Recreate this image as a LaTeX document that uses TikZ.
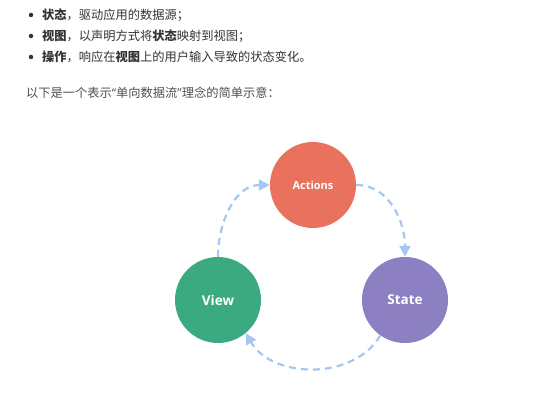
\documentclass[tikz,border=0pt]{standalone}
\usepackage{fontspec}
\setmainfont{Open Sans}
\newfontfamily\cjk{Noto Sans CJK SC}
\usetikzlibrary{arrows.meta}

\definecolor{actionsred}{HTML}{E9725F}
\definecolor{viewgreen}{HTML}{3BAA80}
\definecolor{statepurple}{HTML}{8C80C3}
\definecolor{flowblue}{HTML}{A6C6F4}
\definecolor{txtdark}{HTML}{333333}
\definecolor{txtgray}{HTML}{505050}

\tikzset{
    bubble/.style={circle, minimum size=86pt, inner sep=0pt, text=white, font=\bfseries},
    flow/.style={draw=flowblue, line width=2.2pt, dash pattern=on 7pt off 5pt,
        -{Triangle[length=11pt,width=11pt]}},
    line/.style={anchor=west, inner sep=0pt, text=txtdark, font=\cjk\fontsize{12.25}{14}\selectfont},
    dot/.style={circle, fill=txtdark, inner sep=0pt, minimum size=4.5pt},
}

\begin{document}
\begin{tikzpicture}[x=1pt,y=-1pt]
        \useasboundingbox[fill=white] (0,0) rectangle (535,403);

        % list
        \node[dot] (b1) at (31,15) {};
        \node[dot] (b2) at (31,36) {};
        \node[dot] (b3) at (31,57) {};
        \node[line] (l1) at (42,15) {\textbf{状态}，驱动应用的数据源；};
        \node[line] (l2) at (42,36) {\textbf{视图}，以声明方式将\textbf{状态}映射到视图；};
        \node[line] (l3) at (42,57) {\textbf{操作}，响应在\textbf{视图}上的用户输入导致的状态变化。};
        \node[line, text=txtgray] (intro) at (26,93) {以下是一个表示{\rmfamily“}单向数据流{\rmfamily”}理念的简单示意：};

        % cycle
        \node[bubble, fill=actionsred, font=\bfseries\fontsize{11}{12}\selectfont] (actions) at (313,185) {Actions};
        \node[bubble, fill=statepurple, font=\bfseries\fontsize{13.5}{15}\selectfont] (state) at (405,300) {State};
        \node[bubble, fill=viewgreen, font=\bfseries\fontsize{13.5}{15}\selectfont] (view) at (218,300) {View};

        \draw[flow] (view.north) to[out=90,in=180] (actions.west);
        \draw[flow] (actions.east) to[out=0,in=90] (state.north);
        \draw[flow] (state.-125) to[out=-120,in=-60] (view.-50);

\end{tikzpicture}
\end{document}
